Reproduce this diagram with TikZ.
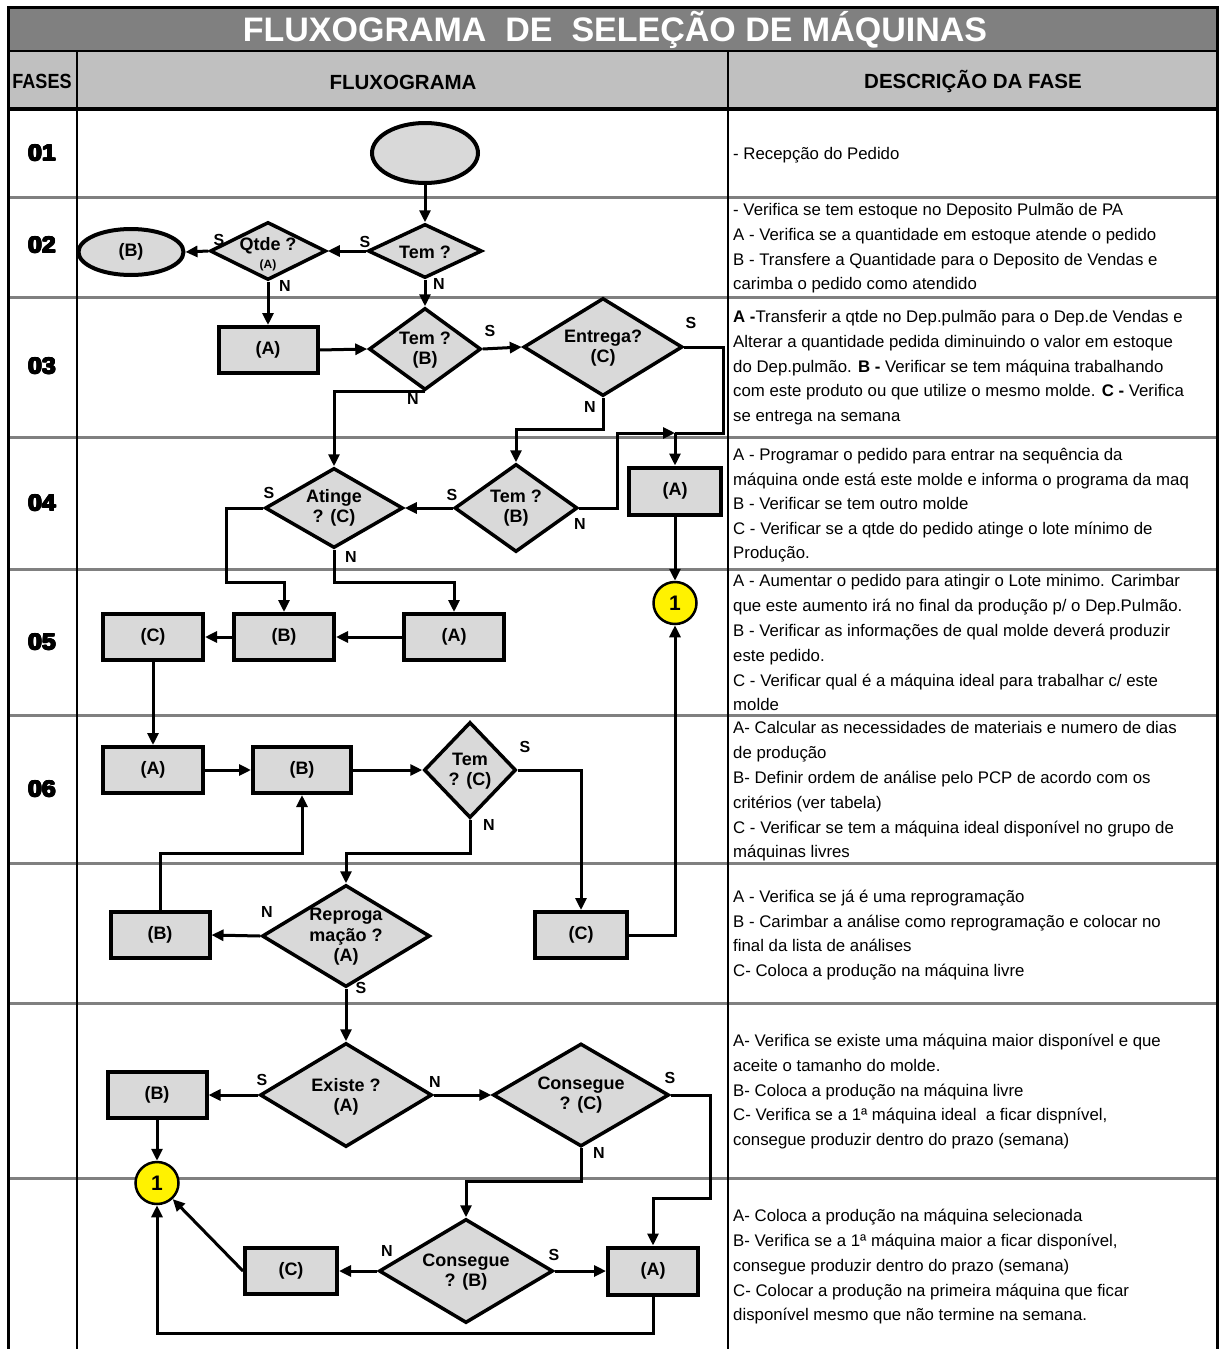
\documentclass[tikz,border=0pt]{standalone}
\usepackage{fontspec}
\setmainfont{Liberation Sans}
\newfontfamily\narrowfont[FakeStretch=0.88]{Liberation Sans}
\newfontfamily\heavyfont[FakeStretch=1.08]{Liberation Sans}
\usetikzlibrary{shapes.geometric,arrows.meta}

\definecolor{titlegray}{RGB}{128,128,128}
\definecolor{headgray}{RGB}{192,192,192}
\definecolor{shapegray}{RGB}{217,217,217}
\definecolor{rulegray}{RGB}{128,128,128}

% extra-heavy phase numbers: overprinted copies of the bold digits
\newcommand\phasenum[1]{%
  \rlap{\raisebox{0.7pt}{#1}}\rlap{\raisebox{-0.7pt}{#1}}%
  \rlap{\kern0.7pt\raisebox{0.7pt}{#1}}\rlap{\kern0.7pt\raisebox{-0.7pt}{#1}}%
  \rlap{\kern1.4pt\raisebox{0.7pt}{#1}}\rlap{\kern1.4pt\raisebox{-0.7pt}{#1}}%
  \rlap{\kern1.4pt #1}\rlap{\kern0.7pt #1}#1\kern1.4pt}

\tikzset{
  box/.style={rectangle, draw, line width=4pt, fill=shapegray, inner sep=0pt,
    minimum height=46pt, font=\fontsize{18}{20}\selectfont\bfseries},
  termell/.style={ellipse, draw, line width=4pt, fill=shapegray, inner sep=0pt,
    font=\fontsize{18}{20}\selectfont\bfseries},
  dec/.style={diamond, draw, line width=3.5pt, fill=shapegray, inner sep=0pt},
  dtext/.style={inner sep=0pt, align=center, font=\fontsize{18}{20.5}\selectfont\bfseries},
  conn/.style={ellipse, draw, line width=2.5pt, fill=yellow, inner sep=0pt,
    minimum width=43pt, minimum height=42pt, font=\fontsize{21}{21}\selectfont\bfseries},
  flow/.style={line width=3pt, -{Triangle[length=12pt,width=11pt]}},
  plain/.style={line width=3pt},
  yn/.style={inner sep=0pt, font=\fontsize{16}{16}\selectfont\bfseries},
  desc/.style={anchor=base west, inner sep=0pt, font=\fontsize{16.8}{16.8}\selectfont},
  phase/.style={inner sep=0pt, font=\heavyfont\fontsize{23}{23}\selectfont\bfseries},
  head/.style={inner sep=0pt, font=\fontsize{20.5}{20.5}\selectfont\bfseries},
}

\begin{document}
\begin{tikzpicture}[x=1pt,y=-1pt]
\useasboundingbox (0,0) rectangle (1219,1349);
\fill[white] (0,0) rectangle (1219,1349);

% ---------- table ----------
\fill[titlegray] (8,7) rectangle (1217,51);
\fill[headgray] (8,51) rectangle (1217,109);
\foreach \yy in {197,297,437,569,715,863,1003,1178}
  \draw[rulegray, line width=3pt] (8,\yy) -- (1217,\yy);
\draw[line width=2pt] (77,51) -- (77,1349);
\draw[line width=2pt] (728,51) -- (728,1349);
\draw[line width=2pt] (8,51) -- (1217,51);
\draw[line width=4pt] (8,109) -- (1217,109);
\draw[line width=3pt] (8,1349) -- (8,7) -- (1217,7) -- (1217,1349);

\node[text=white, inner sep=0pt, font=\fontsize{34}{34}\selectfont\bfseries] (title) at (615,30)
  {FLUXOGRAMA\ \ DE\ \ SELEÇÃO DE MÁQUINAS};
\node[head, font=\narrowfont\fontsize{20.5}{20.5}\selectfont\bfseries] (hfases) at (42,81) {FASES};
\node[head] (hflux) at (403,82) {FLUXOGRAMA};
\node[head] (hdesc) at (973,82) {DESCRIÇÃO DA FASE};

\node[phase] (p1) at (42,153) {\phasenum{01}};
\node[phase] (p2) at (42,245) {\phasenum{02}};
\node[phase] (p3) at (42,366) {\phasenum{03}};
\node[phase] (p4) at (42,503) {\phasenum{04}};
\node[phase] (p5) at (42,642) {\phasenum{05}};
\node[phase] (p6) at (42,789) {\phasenum{06}};

% ---------- flowchart nodes ----------
% row 01-02
\node[termell, minimum width=106pt, minimum height=60pt] (start) at (425,153) {};
\node[dec, minimum width=114pt, minimum height=54pt] (temA) at (425,251) {};
\node[dtext] (temAt) at (425,252) {Tem ?};
\node[dec, minimum width=116pt, minimum height=58pt] (qtde) at (268,251) {};
\node[dtext] (qtdeT) at (268,246) {Qtde ?};
\node[inner sep=0pt, font=\fontsize{12}{12}\selectfont\bfseries] (qtdeA) at (268,265) {(A)};
\node[termell, minimum width=105pt, minimum height=46pt] (bEll) at (131,252) {(B)};

% row 03
\node[box, minimum width=99pt] (a3) at (268,350) {(A)};
\node[dec, minimum width=112pt, minimum height=82pt] (temB) at (425,349) {};
\node[dtext] (temBt) at (425,350) {Tem ?\\(B)};
\node[dec, minimum width=159pt, minimum height=98pt] (entrega) at (603,347) {};
\node[dtext] (entregat) at (603,348) {Entrega?\\(C)};

% row 04
\node[dec, minimum width=138pt, minimum height=80pt] (atinge) at (334,508) {};
\node[dtext] (atinget) at (334,508) {Atinge\\? (C)};
\node[dec, minimum width=123pt, minimum height=88pt] (tem4) at (516,508) {};
\node[dtext] (tem4t) at (516,508) {Tem ?\\(B)};
\node[box, minimum width=92pt, minimum height=47pt] (a4) at (675,491) {(A)};
\node[conn] (y1) at (675,603) {1};

% row 05
\node[box, minimum width=100pt] (c5) at (153,637) {(C)};
\node[box, minimum width=100pt] (b5) at (284,637) {(B)};
\node[box, minimum width=100pt] (a5) at (454,637) {(A)};

% row 06
\node[box, minimum width=100pt] (a6) at (153,770) {(A)};
\node[box, minimum width=98pt] (b6) at (302,770) {(B)};
\node[dec, minimum width=92pt, minimum height=96pt] (temC) at (470,770) {};
\node[dtext] (temCt) at (470,771) {Tem\\? (C)};

% row 07
\node[box, minimum width=99pt] (b7) at (160,935) {(B)};
\node[dec, minimum width=168pt, minimum height=102pt] (repro) at (346,936) {};
\node[dtext] (reprot) at (346,937) {Reproga\\mação ?\\(A)};
\node[box, minimum width=92pt] (c7) at (581,935) {(C)};

% row 08
\node[dec, minimum width=172pt, minimum height=104pt] (existe) at (346,1095) {};
\node[dtext] (existet) at (346,1097) {Existe ?\\(A)};
\node[box, minimum width=99pt] (b8) at (157,1095) {(B)};
\node[dec, minimum width=176pt, minimum height=103pt] (consC) at (581,1095) {};
\node[dtext] (consCt) at (581,1095) {Consegue\\? (C)};
\node[conn] (y2) at (157,1183) {1};

% row 09
\node[dec, minimum width=174pt, minimum height=104pt] (consB) at (466,1271) {};
\node[dtext] (consBt) at (466,1272) {Consegue\\? (B)};
\node[box, minimum width=92pt] (c9) at (291,1271) {(C)};
\node[box, minimum width=90pt, minimum height=47pt] (a9) at (653,1271) {(A)};

% ---------- bend points ----------
\coordinate (jA) at (675,433);
\coordinate (eS) at (723,347);
\coordinate (t4r) at (617,508);
\coordinate (eN) at (603,429);
\coordinate (aSd) at (226,582);
\coordinate (aNd) at (334,582);
\coordinate (tNd) at (470,853);
\coordinate (bUp) at (160,853);
\coordinate (cSd) at (710,1198);
\coordinate (cNd) at (581,1181);
\coordinate (aBd) at (653,1333);

% ---------- connectors ----------
\draw[flow] (start) -- (temA);
\draw[flow] (temA.west) -- (qtde.east);
\draw[flow] (qtde.west) -- (bEll.east);
\draw[flow] (qtde.south) -- (a3.north);
\draw[flow] (temA.south) -- (temB.north);
\draw[flow] (a3.east) -- (temB.west);
\draw[flow] (temB.east) -- (entrega.west);
\draw[plain] (entrega.east) -- (eS) |- (jA);
\draw[flow] (tem4.east) -- (t4r) |- (jA);
\draw[flow] (jA) -- (a4.north);
\draw[flow] (entrega.south) -- (eN) -| (tem4.north);
\draw[flow] (temB.south) -| (atinge.north);
\draw[flow] (tem4.west) -- (atinge.east);
\draw[flow] (atinge.west) -| (aSd) -| (b5.north);
\draw[flow] (atinge.south) -- (aNd) -| (a5.north);
\draw[flow] (a5.west) -- (b5.east);
\draw[flow] (b5.west) -- (c5.east);
\draw[flow] (a4.south) -- (y1.north);
\draw[flow] (c5.south) -- (a6.north);
\draw[flow] (a6.east) -- (b6.west);
\draw[flow] (b6.east) -- (temC.west);
\draw[flow] (temC.east) -| (c7.north);
\draw[flow] (temC.south) -- (tNd) -| (repro.north);
\draw[flow] (repro.west) -- (b7.east);
\draw[flow] (b7.north) -- (bUp) -| (b6.south);
\draw[flow] (c7.east) -| (y1.south);
\draw[flow] (repro.south) -- (existe.north);
\draw[flow] (existe.west) -- (b8.east);
\draw[flow] (existe.east) -- (consC.west);
\draw[flow] (consC.east) -| (cSd) -| (a9.north);
\draw[flow] (consC.south) -- (cNd) -| (consB.north);
\draw[flow] (b8.south) -- (y2.north);
\draw[flow] (consB.west) -- (c9.east);
\draw[flow] (consB.east) -- (a9.west);
\draw[flow] (c9.west) -- (y2);
\draw[flow] (a9.south) -- (aBd) -| (y2.south);

% ---------- S / N labels ----------
\node[yn] (lsA) at (365,242) {S};
\node[yn] (lsQ) at (219,240) {S};
\node[yn] (lnQ) at (285,286) {N};
\node[yn] (lnT) at (439,284) {N};
\node[yn] (lsB) at (490,331) {S};
\node[yn] (lsE) at (691,323) {S};
\node[yn] (lnB) at (413,399) {N};
\node[yn] (lnE) at (590,407) {N};
\node[yn] (lsAt) at (269,493) {S};
\node[yn] (lnAt) at (351,557) {N};
\node[yn] (ls4) at (452,495) {S};
\node[yn] (ln4) at (580,524) {N};
\node[yn] (lsC) at (525,747) {S};
\node[yn] (lnC) at (489,825) {N};
\node[yn] (lnR) at (267,912) {N};
\node[yn] (lsR) at (361,988) {S};
\node[yn] (lsEx) at (262,1080) {S};
\node[yn] (lnEx) at (435,1082) {N};
\node[yn] (lsCC) at (670,1078) {S};
\node[yn] (lnCC) at (599,1153) {N};
\node[yn] (lnCB) at (387,1251) {N};
\node[yn] (lsCB) at (554,1255) {S};

% ---------- phase descriptions ----------
\node[desc] (d1a) at (733,159.5) {- Recepção do Pedido};

\node[desc] (d2a) at (733,215.5) {- Verifica se tem estoque no Deposito Pulmão de PA};
\node[desc] (d2b) at (733,240.5) {A - Verifica se a quantidade em estoque atende o pedido};
\node[desc] (d2c) at (733,265.5) {B - Transfere a Quantidade para o Deposito de Vendas e};
\node[desc] (d2d) at (733,289.5) {carimba o pedido como atendido};

\node[desc] (d3a) at (733,322.5) {\textbf{A -}Transferir a qtde no Dep.pulmão para o Dep.de Vendas e};
\node[desc] (d3b) at (733,347.5) {Alterar a quantidade pedida diminuindo o valor em estoque};
\node[desc] (d3c) at (733,372.5) {do Dep.pulmão. \textbf{B -} Verificar se tem máquina trabalhando};
\node[desc] (d3d) at (733,396.5) {com este produto ou que utilize o mesmo molde. \textbf{C -} Verifica};
\node[desc] (d3e) at (733,421.5) {se entrega na semana};

\node[desc] (d4a) at (733,460.5) {A - Programar o pedido para entrar na sequência da};
\node[desc] (d4b) at (733,485.5) {máquina onde está este molde e informa o programa da maq};
\node[desc] (d4c) at (733,509.5) {B - Verificar se tem outro molde};
\node[desc] (d4d) at (733,534.5) {C - Verificar se a qtde do pedido atinge o lote mínimo de};
\node[desc] (d4e) at (733,558.5) {Produção.};

\node[desc] (d5a) at (733,586.5) {A - Aumentar o pedido para atingir o Lote minimo. Carimbar};
\node[desc] (d5b) at (733,611.5) {que este aumento irá no final da produção p/ o Dep.Pulmão.};
\node[desc] (d5c) at (733,636.5) {B - Verificar as informações de qual molde deverá produzir};
\node[desc] (d5d) at (733,661.5) {este pedido.};
\node[desc] (d5e) at (733,686.5) {C - Verificar qual é a máquina ideal para trabalhar c/ este};
\node[desc] (d5f) at (733,710.5) {molde};

\node[desc] (d6a) at (733,733.5) {A- Calcular as necessidades de materiais e numero de dias};
\node[desc] (d6b) at (733,758.5) {de produção};
\node[desc] (d6c) at (733,783.5) {B- Definir ordem de análise pelo PCP de acordo com os};
\node[desc] (d6d) at (733,808.5) {critérios (ver tabela)};
\node[desc] (d6e) at (733,833.5) {C - Verificar se tem a máquina ideal disponível no grupo de};
\node[desc] (d6f) at (733,857.5) {máquinas livres};

\node[desc] (d7a) at (733,902.5) {A - Verifica se já é uma reprogramação};
\node[desc] (d7b) at (733,927.5) {B - Carimbar a análise como reprogramação e colocar no};
\node[desc] (d7c) at (733,951.5) {final da lista de análises};
\node[desc] (d7d) at (733,976.5) {C- Coloca a produção na máquina livre};

\node[desc] (d8a) at (733,1046.5) {A- Verifica se existe uma máquina maior disponível e que};
\node[desc] (d8b) at (733,1071.5) {aceite o tamanho do molde.};
\node[desc] (d8c) at (733,1096.5) {B- Coloca a produção na máquina livre};
\node[desc] (d8d) at (733,1120.5) {C- Verifica se a 1ª máquina ideal\ \ a ficar dispnível,};
\node[desc] (d8e) at (733,1145.5) {consegue produzir dentro do prazo (semana)};

\node[desc] (d9a) at (733,1221.5) {A- Coloca a produção na máquina selecionada};
\node[desc] (d9b) at (733,1246.5) {B- Verifica se a 1ª máquina maior a ficar disponível,};
\node[desc] (d9c) at (733,1271.5) {consegue produzir dentro do prazo (semana)};
\node[desc] (d9d) at (733,1296.5) {C- Colocar a produção na primeira máquina que ficar};
\node[desc] (d9e) at (733,1320.5) {disponível mesmo que não termine na semana.};
\end{tikzpicture}
\end{document}
